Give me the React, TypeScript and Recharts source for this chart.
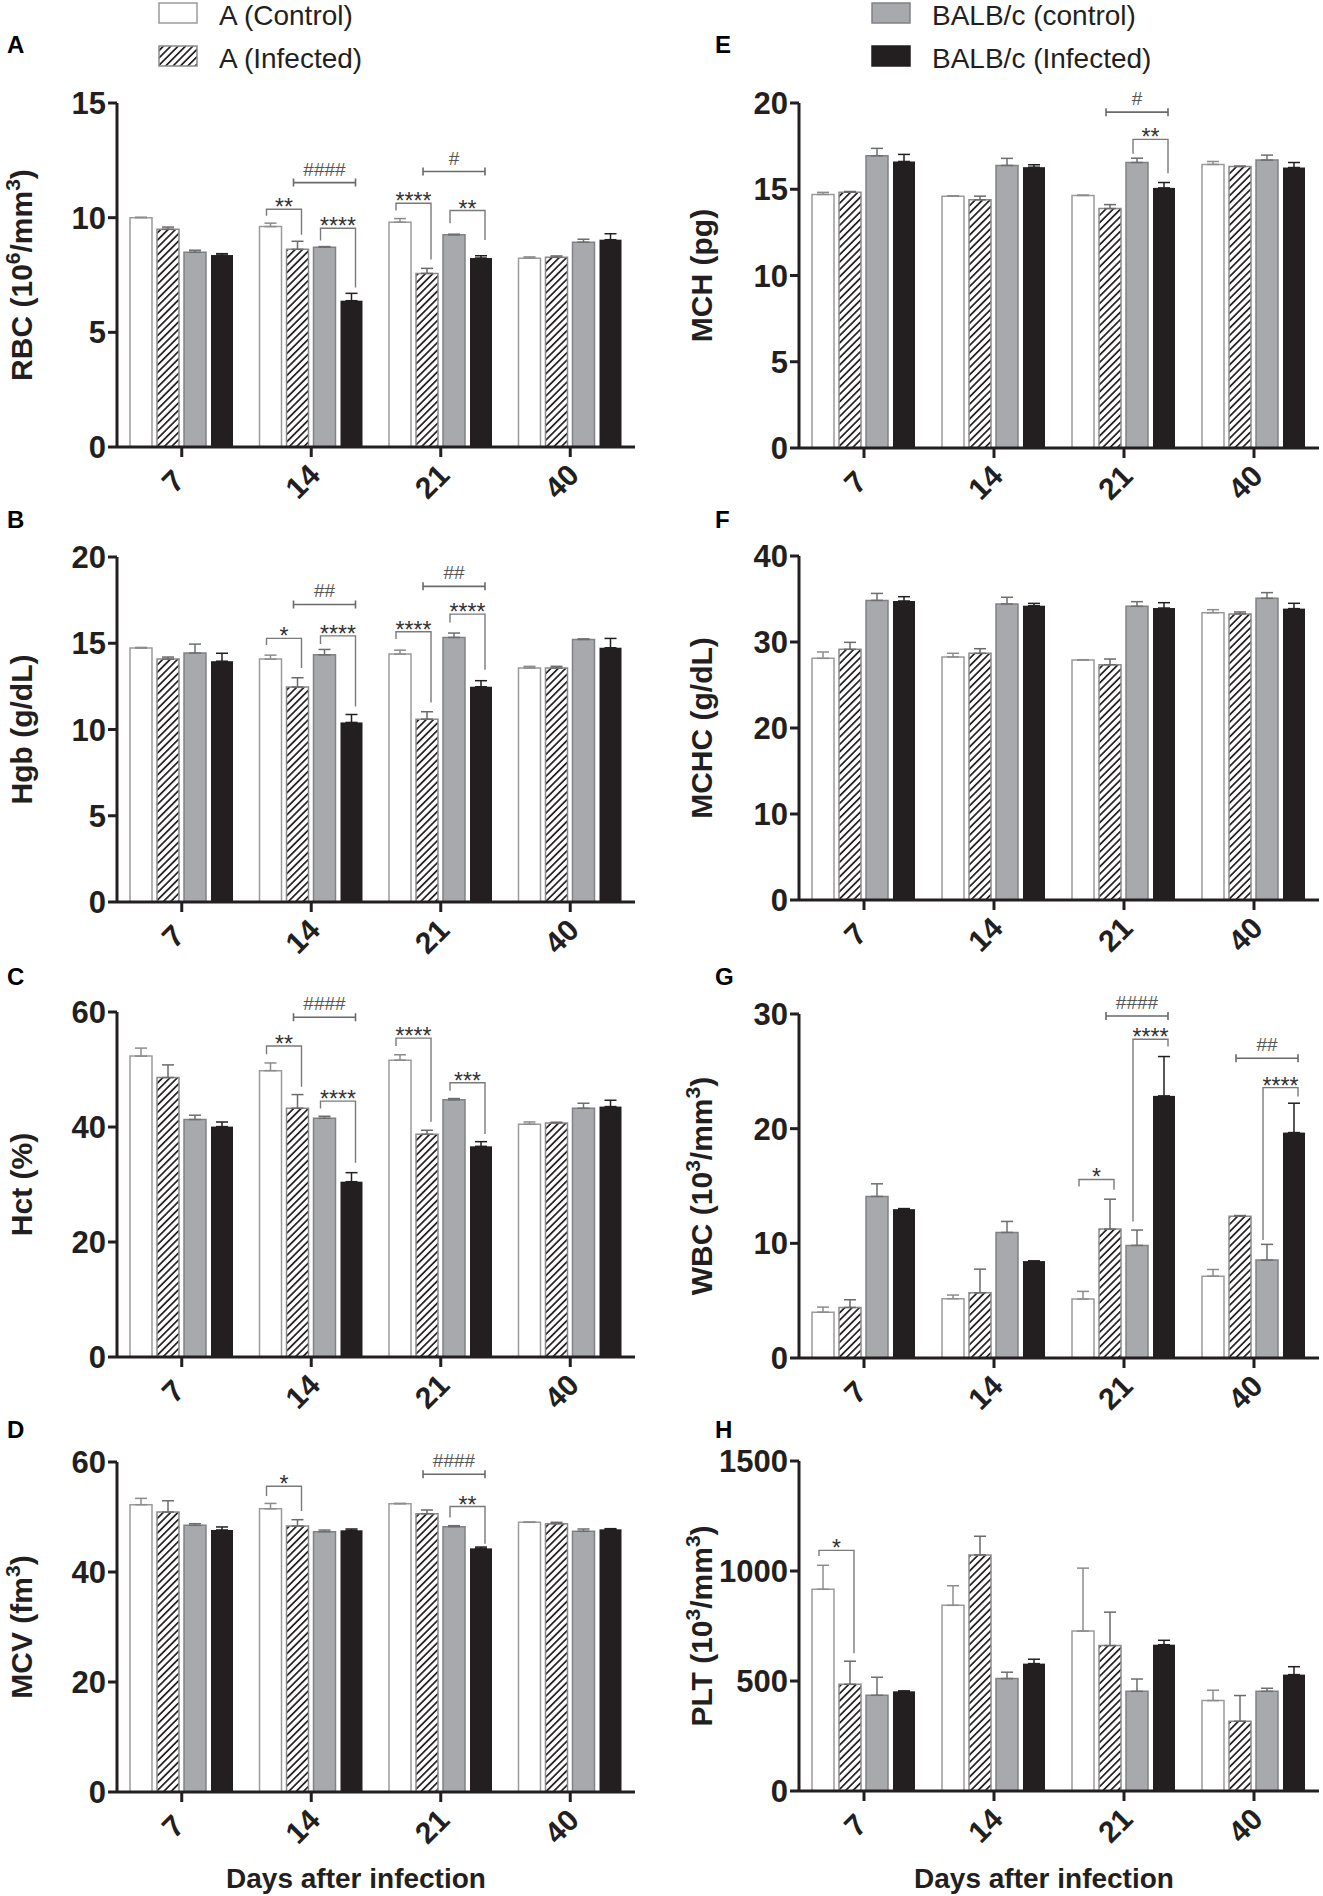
import React from 'react';
import { BarChart, Bar, XAxis, YAxis, ErrorBar } from 'recharts';

const FONT = "'Liberation Sans', Arial, Helvetica, sans-serif";
const NARROW = "'Liberation Sans Narrow', 'Arial Narrow', 'Liberation Sans', Arial, sans-serif";
const INK = '#231f20';
const BAR_GAP = 5;

const days = ['7', '14', '21', '40'];
const legendNames = ['A (Control)', 'A (Infected)', 'BALB/c (control)', 'BALB/c (Infected)'];

// every panel: [A control, A infected, BALB/c control, BALB/c infected], one value per day
const rbcMean = [[10.0, 9.61, 9.8, 8.23], [9.49, 8.62, 7.57, 8.27], [8.49, 8.71, 9.25, 8.93], [8.37, 6.38, 8.24, 9.04]];
const rbcSem = [[0.02, 0.15, 0.16, 0.06], [0.1, 0.35, 0.22, 0.06], [0.09, 0.03, 0.03, 0.13], [0.06, 0.32, 0.1, 0.26]];

const hgbMean = [[14.72, 14.08, 14.37, 13.56], [14.08, 12.46, 10.6, 13.56], [14.43, 14.33, 15.34, 15.22], [13.96, 10.41, 12.48, 14.74]];
const hgbSem = [[0.04, 0.23, 0.23, 0.1], [0.12, 0.54, 0.43, 0.1], [0.52, 0.31, 0.25, 0.03], [0.46, 0.46, 0.35, 0.54]];

const hctMean = [[52.33, 49.8, 51.63, 40.48], [48.6, 43.26, 38.73, 40.71], [41.3, 41.52, 44.72, 43.26], [40.07, 30.49, 36.64, 43.55]];
const hctSem = [[1.39, 1.34, 0.93, 0.4], [2.2, 2.38, 0.7, 0.12], [0.75, 0.35, 0.23, 0.87], [0.8, 1.57, 0.81, 1.1]];

const mcvMean = [[52.24, 51.5, 52.42, 49.03], [50.9, 48.36, 50.6, 48.79], [48.48, 47.33, 48.24, 47.4], [47.64, 47.58, 44.3, 47.76]];
const mcvSem = [[1.15, 0.97, 0.06, 0.06], [2.06, 1.15, 0.67, 0.24], [0.3, 0.3, 0.18, 0.42], [0.55, 0.24, 0.24, 0.12]];

const mchMean = [[14.7, 14.6, 14.64, 16.44], [14.83, 14.39, 13.88, 16.32], [16.94, 16.38, 16.55, 16.69], [16.61, 16.28, 15.08, 16.26]];
const mchSem = [[0.12, 0.02, 0.02, 0.17], [0.04, 0.21, 0.23, 0.02], [0.43, 0.41, 0.25, 0.29], [0.41, 0.14, 0.31, 0.29]];

const mchcMean = [[28.1, 28.26, 27.9, 33.41], [29.15, 28.68, 27.36, 33.26], [34.84, 34.42, 34.15, 35.08], [34.77, 34.22, 33.95, 33.88]];
const mchcSem = [[0.74, 0.43, 0.04, 0.35], [0.81, 0.54, 0.66, 0.23], [0.81, 0.78, 0.54, 0.66], [0.5, 0.27, 0.62, 0.62]];

const wbcMean = [[4.0, 5.17, 5.14, 7.14], [4.41, 5.69, 11.24, 12.37], [14.09, 10.95, 9.82, 8.54], [12.98, 8.45, 22.86, 19.66]];
const wbcSem = [[0.44, 0.32, 0.67, 0.58], [0.67, 2.06, 2.61, 0.05], [1.1, 0.96, 1.34, 1.37], [0.05, 0.02, 3.43, 2.56]];

const pltMean = [[917, 844, 727, 411], [485, 1073, 661, 317], [435, 511, 453, 453], [453, 579, 665, 529]];
const pltSem = [[109, 89, 286, 47], [105, 85, 152, 117], [82, 29, 56, 14], [2, 20, 20, 36]];

// significance marks: day index, bar from/to, height of the bar line, where the legs stop
type Note = { day: number; from: number; to: number; y: number; legs?: [number, number]; text: string };

const rbcNotes: Note[] = [
  { day: 1, from: 0, to: 1, y: 10.37, legs: [10.08, 9.25], text: '**' },
  { day: 1, from: 2, to: 3, y: 9.54, legs: [9.0, 6.96], text: '****' },
  { day: 1, from: 1, to: 3, y: 11.53, text: '####' },
  { day: 2, from: 0, to: 1, y: 10.63, legs: [10.31, 8.18], text: '****' },
  { day: 2, from: 2, to: 3, y: 10.31, legs: [9.76, 9.03], text: '**' },
  { day: 2, from: 1, to: 3, y: 12.01, text: '#' },
];
const hgbNotes: Note[] = [
  { day: 1, from: 0, to: 1, y: 15.28, legs: [14.9, 13.56], text: '*' },
  { day: 1, from: 2, to: 3, y: 15.43, legs: [14.95, 11.33], text: '****' },
  { day: 1, from: 1, to: 3, y: 17.25, text: '##' },
  { day: 2, from: 0, to: 1, y: 15.67, legs: [15.24, 11.57], text: '****' },
  { day: 2, from: 2, to: 3, y: 16.69, legs: [16.2, 13.46], text: '****' },
  { day: 2, from: 1, to: 3, y: 18.3, text: '##' },
];
const hctNotes: Note[] = [
  { day: 1, from: 0, to: 1, y: 54.1, legs: [52.67, 47.0], text: '**' },
  { day: 1, from: 2, to: 3, y: 44.5, legs: [43.2, 33.8], text: '****' },
  { day: 1, from: 1, to: 3, y: 59.1, text: '####' },
  { day: 2, from: 0, to: 1, y: 55.45, legs: [54.1, 40.9], text: '****' },
  { day: 2, from: 2, to: 3, y: 47.7, legs: [46.3, 38.8], text: '***' },
];
const mcvNotes: Note[] = [
  { day: 1, from: 0, to: 1, y: 55.6, legs: [53.8, 51.1], text: '*' },
  { day: 2, from: 2, to: 3, y: 51.9, legs: [49.9, 45.15], text: '**' },
  { day: 2, from: 1, to: 3, y: 57.76, text: '####' },
];
const mchNotes: Note[] = [
  { day: 2, from: 2, to: 3, y: 17.89, legs: [17.06, 15.93], text: '**' },
  { day: 2, from: 1, to: 3, y: 19.47, text: '#' },
];
const wbcNotes: Note[] = [
  { day: 2, from: 0, to: 1, y: 15.57, legs: [14.96, 14.67], text: '*' },
  { day: 2, from: 2, to: 3, y: 27.8, legs: [11.9, 27.16], text: '****' },
  { day: 2, from: 1, to: 3, y: 29.83, text: '####' },
  { day: 3, from: 2, to: 3, y: 23.58, legs: [10.3, 22.8], text: '****' },
  { day: 3, from: 1, to: 3, y: 26.14, text: '##' },
];
const pltNotes: Note[] = [
  { day: 0, from: 0, to: 1, y: 1093.9, legs: [1068, 625.8], text: '*' },
];

type Seg = [string, boolean];
const panels = [
  { letter: 'A', col: 0, top: 103, h: 344, ticks: [0, 5, 10, 15], mean: rbcMean, sem: rbcSem, notes: rbcNotes,
    title: [['RBC (10', false], ['6', true], ['/mm', false], ['3', true], [')', false]] as Seg[] },
  { letter: 'B', col: 0, top: 557, h: 345, ticks: [0, 5, 10, 15, 20], mean: hgbMean, sem: hgbSem, notes: hgbNotes,
    title: [['Hgb (g/dL)', false]] as Seg[] },
  { letter: 'C', col: 0, top: 1012, h: 345, ticks: [0, 20, 40, 60], mean: hctMean, sem: hctSem, notes: hctNotes,
    title: [['Hct (%)', false]] as Seg[] },
  { letter: 'D', col: 0, top: 1462, h: 330, ticks: [0, 20, 40, 60], mean: mcvMean, sem: mcvSem, notes: mcvNotes,
    title: [['MCV (fm', false], ['3', true], [')', false]] as Seg[] },
  { letter: 'E', col: 1, top: 103, h: 345, ticks: [0, 5, 10, 15, 20], mean: mchMean, sem: mchSem, notes: mchNotes,
    title: [['MCH (pg)', false]] as Seg[] },
  { letter: 'F', col: 1, top: 556, h: 344, ticks: [0, 10, 20, 30, 40], mean: mchcMean, sem: mchcSem, notes: [] as Note[],
    title: [['MCHC (g/dL)', false]] as Seg[] },
  { letter: 'G', col: 1, top: 1014, h: 344, ticks: [0, 10, 20, 30], mean: wbcMean, sem: wbcSem, notes: wbcNotes,
    title: [['WBC (10', false], ['3', true], ['/mm', false], ['3', true], [')', false]] as Seg[] },
  { letter: 'H', col: 1, top: 1461, h: 330, ticks: [0, 500, 1000, 1500], mean: pltMean, sem: pltSem, notes: pltNotes,
    title: [['PLT (10', false], ['3', true], ['/mm', false], ['3', true], [')', false]] as Seg[] },
];

const barStyles = [
  { fill: '#ffffff', stroke: '#9b9b9b', err: '#8c8c8c' },
  { fill: 'url(#hatch)', stroke: '#8a8a8a', err: '#6a6a6a' },
  { fill: '#a7a9ac', stroke: '#808285', err: '#6d6e70' },
  { fill: INK, stroke: INK, err: INK },
];

// geometry of the two columns
const cols = [
  { left: 0, axisX: 117, plotW: 518, width: 643, daysX: 356 },
  { left: 682, axisX: 799, plotW: 520, width: 641, daysX: 1044 },
];

function buildRows(mean: number[][], sem: number[][]) {
  return days.map((d, i) => {
    const row: any = { day: d };
    for (let s = 0; s < 4; s++) {
      row[`v${s}`] = mean[s][i];
      row[`e${s}`] = [0, sem[s][i]];
    }
    return row;
  });
}

const XTick = (props: any) => {
  const { x, y, payload } = props;
  return (
    <g transform={`translate(${x - 9},${y + 22})`}>
      <text transform="rotate(-45)" textAnchor="middle" dy="0.36em" fontSize={30} fontWeight={700} fill={INK} fontFamily={NARROW}>
        {payload.value}
      </text>
    </g>
  );
};

// the last (black) bar of each day also carries that day's brackets, placed from its own geometry
function shapeWithNotes(mean: number[][], notes: Note[]) {
  return (props: any) => {
    const { x, y, width, height, payload } = props;
    const idx = days.indexOf(payload.day);
    const base = y + height;
    const k = height / mean[3][idx];
    const yOf = (v: number) => base - v * k;
    const pitch = width + BAR_GAP;
    const mid = (s: number) => x - (3 - s) * pitch + width / 2;
    return (
      <g>
        <rect x={x} y={y} width={width} height={height} fill={INK} />
        {notes.filter((n) => n.day === idx).map((n, i) => {
          const xl = mid(n.from) - 4;
          const xr = mid(n.to) + 4;
          const ly = yOf(n.y);
          const hash = n.text.includes('#');
          return (
            <g key={i}>
              {n.legs ? (
                <path d={`M${xl},${yOf(n.legs[0])}V${ly}H${xr}V${yOf(n.legs[1])}`} fill="none" stroke="#7a7a7a" strokeWidth={1.4} />
              ) : (
                <path d={`M${xl},${ly}H${xr}M${xl},${ly - 4}V${ly + 4}M${xr},${ly - 4}V${ly + 4}`} fill="none" stroke="#6a6a6a" strokeWidth={1.6} />
              )}
              <text x={(xl + xr) / 2} y={hash ? ly - 7 : ly + 6} textAnchor="middle" fontFamily={FONT}
                fontSize={hash ? 19 : 23} fill={hash ? '#555' : '#333'}>
                {n.text}
              </text>
            </g>
          );
        })}
      </g>
    );
  };
}

function Panel({ p }: { p: (typeof panels)[number] }) {
  const c = cols[p.col];
  const data = buildRows(p.mean, p.sem);
  const axisStyle = { stroke: INK, strokeWidth: 3 };
  return (
    <div style={{ position: 'absolute', left: c.left, top: p.top - 40 }}>
      <BarChart
        width={c.width}
        height={40 + p.h + 70}
        data={data}
        margin={{ top: 40, right: c.width - (c.axisX - c.left) - c.plotW, left: 0, bottom: 0 }}
        barGap={BAR_GAP}
        barCategoryGap={13}
      >
        <XAxis dataKey="day" height={70} tickSize={10} interval={0} axisLine={axisStyle} tickLine={axisStyle}
          tick={(t: any) => <XTick {...t} />} />
        <YAxis width={c.axisX - c.left} domain={[0, p.ticks[p.ticks.length - 1]]} ticks={p.ticks} interval={0}
          tickSize={9} axisLine={axisStyle} tickLine={axisStyle}
          tick={{ fontSize: 31, fontWeight: 700, fill: INK, fontFamily: NARROW }} />
        {barStyles.map((s, i) => (
          <Bar key={i} dataKey={`v${i}`} fill={s.fill} stroke={s.stroke} strokeWidth={1.5} isAnimationActive={false}
            shape={i === 3 ? shapeWithNotes(p.mean, p.notes) : undefined}>
            <ErrorBar dataKey={`e${i}`} width={6} stroke={s.err} strokeWidth={1.5} direction="y" />
          </Bar>
        ))}
      </BarChart>
    </div>
  );
}

function Title({ segs, x, y }: { segs: Seg[]; x: number; y: number }) {
  let up = false;
  return (
    <text transform={`translate(${x},${y}) rotate(-90)`} textAnchor="middle" fontFamily={NARROW} fontSize={30} fontWeight={700} fill={INK}>
      {segs.map(([t, sup], i) => {
        const dy = sup && !up ? -12 : !sup && up ? 12 : 0;
        up = sup;
        return (
          <tspan key={i} dy={dy} fontSize={sup ? 21 : 30}>{t}</tspan>
        );
      })}
    </text>
  );
}

export default function App() {
  const legendBoxes = [
    { x: 159, y: 3, fill: '#ffffff', stroke: '#9b9b9b' },
    { x: 159, y: 46, fill: 'url(#hatch)', stroke: '#8a8a8a' },
    { x: 872, y: 3, fill: '#a7a9ac', stroke: '#808285' },
    { x: 872, y: 46, fill: INK, stroke: INK },
  ];
  const letterY = [53, 528, 985, 1438];
  return (
    <div style={{ position: 'absolute', left: 0, top: 0, width: 1323, height: 1896, background: '#fff' }}>
      <svg width={1323} height={1896} style={{ position: 'absolute', left: 0, top: 0 }}>
        <defs>
          <pattern id="hatch" patternUnits="userSpaceOnUse" width={5.2} height={5.2} patternTransform="rotate(45)">
            <rect width={5.2} height={5.2} fill="#fff" />
            <line x1={2.6} y1={0} x2={2.6} y2={5.2} stroke={INK} strokeWidth={1.7} />
          </pattern>
        </defs>
        {legendBoxes.map((b, i) => (
          <g key={i}>
            <rect x={b.x} y={b.y} width={38} height={20} fill={b.fill} stroke={b.stroke} strokeWidth={1.5} />
            <text x={b.x + 60} y={b.y + 22} fontFamily={FONT} fontSize={28} fill={INK}>{legendNames[i]}</text>
          </g>
        ))}
        {panels.map((p, i) => (
          <text key={p.letter} x={p.col === 0 ? 7 : 715} y={letterY[i % 4]} fontFamily={FONT} fontSize={24} fontWeight={700} fill="#000">
            {p.letter}
          </text>
        ))}
        {panels.map((p) => (
          <Title key={p.letter + 't'} segs={p.title} x={p.col === 0 ? 32 : 712} y={p.top + p.h / 2} />
        ))}
        {cols.map((c, i) => (
          <text key={i} x={c.daysX} y={1888} textAnchor="middle" fontFamily={NARROW} fontSize={28} fontWeight={700} fill={INK}>
            Days after infection
          </text>
        ))}
      </svg>
      {panels.map((p) => (
        <Panel key={p.letter} p={p} />
      ))}
    </div>
  );
}
